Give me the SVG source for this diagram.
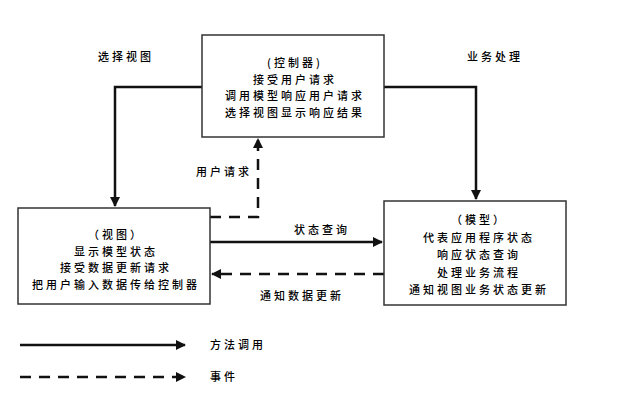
<svg xmlns="http://www.w3.org/2000/svg" width="643" height="406" viewBox="0 0 643 406">
<style>
text{font-family:"Noto Sans CJK SC","Liberation Sans",sans-serif;font-size:11px;fill:#000;letter-spacing:3px;font-weight:500}
.c{text-anchor:middle}
.box{fill:#fff;stroke:#333;stroke-width:1.5}
.s{fill:none;stroke:#111;stroke-width:2.5}
.d{fill:none;stroke:#111;stroke-width:2.5;stroke-dasharray:11 8}
</style>
<defs>
<marker id="a" viewBox="0 0 10 10" refX="9" refY="5" markerWidth="4" markerHeight="4" orient="auto" markerUnits="strokeWidth">
<path d="M0,0L10,5L0,10z" fill="#111"/>
</marker>
</defs>
<rect width="643" height="406" fill="#fff"/>
<g id="connectors">
<polyline class="s" points="202,87 115,87 115,206" marker-end="url(#a)"/>
<polyline class="s" points="384,87 476,87 476,199" marker-end="url(#a)"/>
<polyline class="d" points="210,217 258,217 258,139" marker-end="url(#a)"/>
<line class="s" x1="210" y1="242" x2="382" y2="242" marker-end="url(#a)"/>
<line class="d" x1="384" y1="274" x2="212" y2="274" marker-end="url(#a)"/>
<line class="s" x1="20" y1="345" x2="185" y2="345" marker-end="url(#a)"/>
<line class="d" x1="20" y1="377" x2="185" y2="377" marker-end="url(#a)"/>
<text x="98" y="61">选择视图</text>
<text x="467" y="61">业务处理</text>
<text x="196" y="176">用户请求</text>
<text class="c" x="322" y="234">状态查询</text>
<text class="c" x="302" y="300">通知数据更新</text>
<text x="210" y="349">方法调用</text>
<text x="210" y="381">事件</text>
</g>
<g id="controller">
<rect class="box" x="202" y="35" width="182" height="102"/>
<text class="c" x="295" y="67">(控制器)</text>
<text class="c" x="295" y="83.5">接受用户请求</text>
<text class="c" x="295" y="100">调用模型响应用户请求</text>
<text class="c" x="295" y="116.5">选择视图显示响应结果</text>
</g>
<g id="view">
<rect class="box" x="18" y="208" width="192" height="96"/>
<text class="c" x="116" y="239">（视图）</text>
<text class="c" x="116" y="255.5">显示模型状态</text>
<text class="c" x="116" y="272">接受数据更新请求</text>
<text class="c" x="116" y="288.5">把用户输入数据传给控制器</text>
</g>
<g id="model">
<rect class="box" x="384" y="201" width="182" height="104"/>
<text class="c" x="479" y="224">（模型）</text>
<text class="c" x="479" y="241.5">代表应用程序状态</text>
<text class="c" x="479" y="259">响应状态查询</text>
<text class="c" x="479" y="276.5">处理业务流程</text>
<text class="c" x="479" y="294">通知视图业务状态更新</text>
</g>
</svg>
